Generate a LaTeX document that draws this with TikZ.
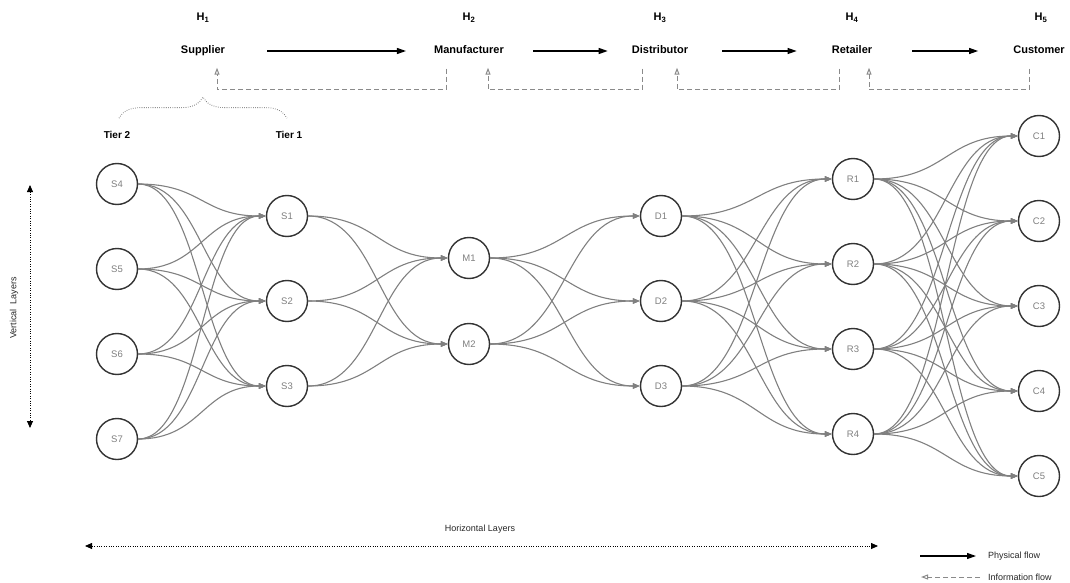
\documentclass[tikz,border=0pt]{standalone}
\usepackage{fontspec}
\setmainfont{Liberation Sans}
\usetikzlibrary{arrows.meta,decorations.pathreplacing,calc}
\definecolor{ringc}{HTML}{333333}
\definecolor{labc}{HTML}{7F7F7F}
\definecolor{linkc}{HTML}{808080}
\definecolor{infoc}{HTML}{8A8A8A}
\begin{document}
\begin{tikzpicture}[x=1pt,y=-1pt,
  ent/.style={circle,draw=ringc,line width=1.4pt,minimum size=41pt,inner sep=0pt,
    font=\fontsize{9.5}{11}\selectfont,text=labc},
  link/.style={draw=linkc,line width=1.1pt,-{Triangle[length=7pt,width=5.5pt]}},
  head/.style={font=\bfseries\fontsize{11}{13}\selectfont,inner sep=0pt,text height=8pt,text depth=3pt},
  tier/.style={font=\bfseries\fontsize{10}{12}\selectfont,inner sep=0pt},
  phys/.style={line width=1.1pt,-{Triangle[length=9pt,width=6pt]}},
  info/.style={draw=infoc,line width=1pt,dash pattern=on 5pt off 3pt,
    -{Triangle[open,length=7pt,width=5pt,line width=1pt]}},
  layer/.style={line width=0.8pt,dash pattern=on 0.6pt off 1.8pt,
    {Triangle[length=7pt,width=6pt]}-{Triangle[length=7pt,width=6pt]}},
  small/.style={font=\fontsize{9}{11}\selectfont,inner sep=0pt,text=black!85}
]
\useasboundingbox (0,0) rectangle (1070,583);

% a curved link leaving east and entering west, controls at half the gap
\newcommand\curvelink[2]{%
  \draw[link] (#1.east) .. controls ($(#1.east)!0.5!(#2.west |- #1.east)$)
    and ($(#2.west)!0.5!(#1.east |- #2.west)$) .. (#2.west);}

% echelon headings
\node[head] (h1) at (203,18) {H\textsubscript{1}};
\node[head] (h2) at (469,18) {H\textsubscript{2}};
\node[head] (h3) at (660,18) {H\textsubscript{3}};
\node[head] (h4) at (852,18) {H\textsubscript{4}};
\node[head] (h5) at (1041,18) {H\textsubscript{5}};
\node[head] (sup) at (203,51) {Supplier};
\node[head] (man) at (469,51) {Manufacturer};
\node[head] (dis) at (660,51) {Distributor};
\node[head] (ret) at (852,51) {Retailer};
\node[head] (cus) at (1039,51) {Customer};

% physical flow between echelons
\draw[phys,shorten <=42pt,shorten >=28pt] (sup.east) -- (man.west);
\draw[phys,shorten <=29pt,shorten >=24pt] (man.east) -- (dis.west);
\draw[phys,shorten <=34pt,shorten >=35pt] (dis.east) -- (ret.west);
\draw[phys,shorten <=40pt,shorten >=35pt] (ret.east) -- (cus.west);

% information flow back upstream
\draw[info] ([xshift=-23pt,yshift=-12pt]man.south) -- ++(0,21) -| ([xshift=14pt,yshift=-11pt]sup.south);
\draw[info] ([xshift=-18pt,yshift=-12pt]dis.south) -- ++(0,21) -| ([xshift=19pt,yshift=-11pt]man.south);
\draw[info] ([xshift=-13pt,yshift=-12pt]ret.south) -- ++(0,21) -| ([xshift=17pt,yshift=-11pt]dis.south);
\draw[info] ([xshift=-10pt,yshift=-12pt]cus.south) -- ++(0,21) -| ([xshift=17pt,yshift=-11pt]ret.south);

% supplier tiers
\node[tier] (t2) at (117,135) {Tier 2};
\node[tier] (t1) at (289,135) {Tier 1};
\draw[draw=black!65,line width=0.8pt,dash pattern=on 0.6pt off 1.6pt,
  decorate,decoration={brace,amplitude=21pt}]
  ([xshift=2pt,yshift=13pt]t2.north) -- ([xshift=-2pt,yshift=13pt]t1.north);

% network entities
\node[ent] (S4) at (117,184) {S4};
\node[ent] (S5) at (117,269) {S5};
\node[ent] (S6) at (117,354) {S6};
\node[ent] (S7) at (117,439) {S7};
\node[ent] (S1) at (287,216) {S1};
\node[ent] (S2) at (287,301) {S2};
\node[ent] (S3) at (287,386) {S3};
\node[ent] (M1) at (469,258) {M1};
\node[ent] (M2) at (469,344) {M2};
\node[ent] (D1) at (661,216) {D1};
\node[ent] (D2) at (661,301) {D2};
\node[ent] (D3) at (661,386) {D3};
\node[ent] (R1) at (853,179) {R1};
\node[ent] (R2) at (853,264) {R2};
\node[ent] (R3) at (853,349) {R3};
\node[ent] (R4) at (853,434) {R4};
\node[ent] (C1) at (1039,136) {C1};
\node[ent] (C2) at (1039,221) {C2};
\node[ent] (C3) at (1039,306) {C3};
\node[ent] (C4) at (1039,391) {C4};
\node[ent] (C5) at (1039,476) {C5};

% links between consecutive layers
\foreach \a in {S4,S5,S6,S7} \foreach \b in {S1,S2,S3} {\curvelink{\a}{\b}}
\foreach \a in {S1,S2,S3} \foreach \b in {M1,M2} {\curvelink{\a}{\b}}
\foreach \a in {M1,M2} \foreach \b in {D1,D2,D3} {\curvelink{\a}{\b}}
\foreach \a in {D1,D2,D3} \foreach \b in {R1,R2,R3,R4} {\curvelink{\a}{\b}}
\foreach \a in {R1,R2,R3,R4} \foreach \b in {C1,C2,C3,C4,C5} {\curvelink{\a}{\b}}

% layer axes
\coordinate (vtop) at (30,185);
\coordinate (vbot) at (30,428);
\draw[layer] (vtop) -- (vbot);
\node[small,rotate=90] (vlab) at (14,308) {Vertical\ \ Layers};
\coordinate (hl) at (85,546);
\coordinate (hr) at (878,546);
\draw[layer] (hl) -- (hr);
\node[small] (hlab) at (480,529) {Horizontal Layers};

% legend
\coordinate (lp0) at (920,556);
\coordinate (lp1) at (976,556);
\draw[phys] (lp0) -- (lp1);
\node[small,anchor=west] (lpt) at (988,556) {Physical flow};
\coordinate (li0) at (980,577);
\coordinate (li1) at (921,577);
\draw[info] (li0) -- (li1);
\node[small,anchor=west] (lit) at (988,577) {Information flow};
\end{tikzpicture}
\end{document}
